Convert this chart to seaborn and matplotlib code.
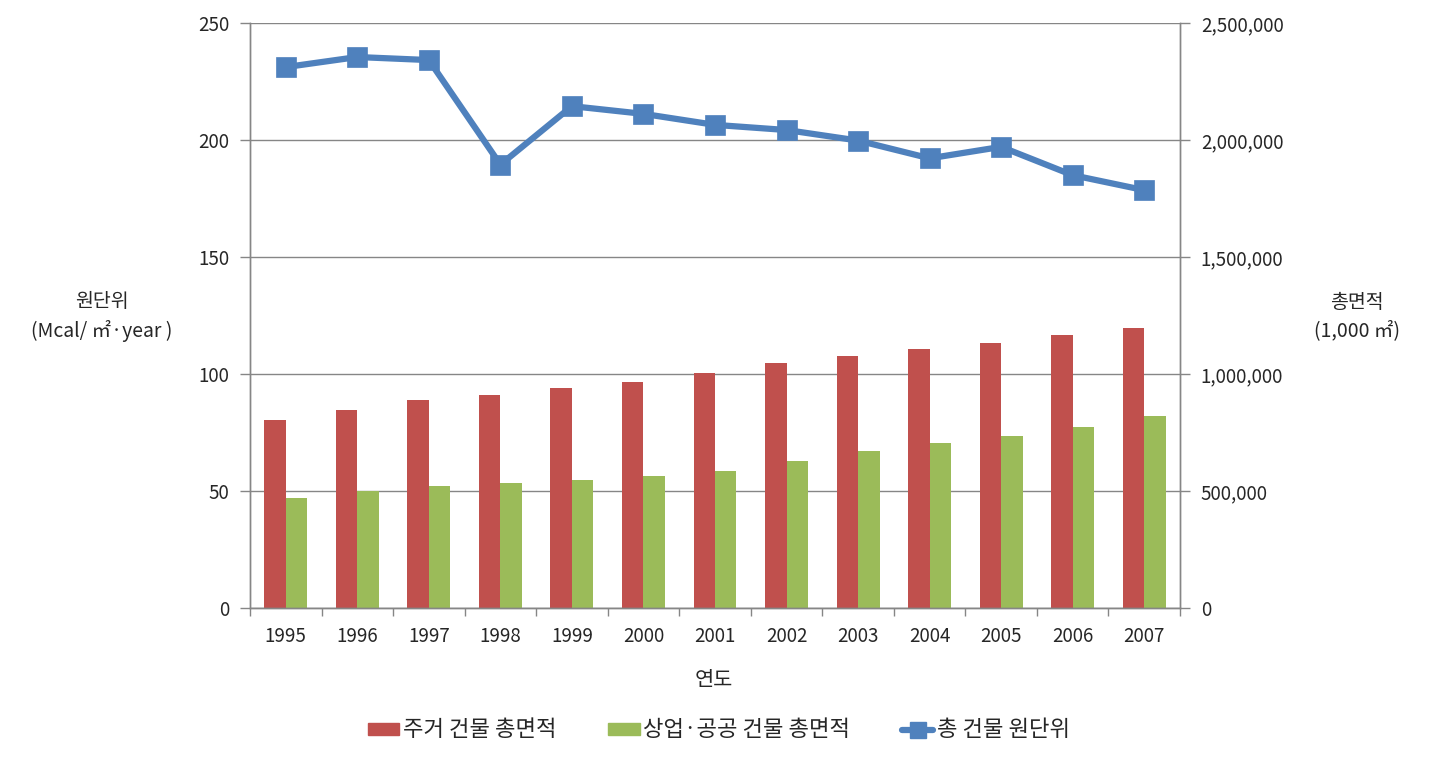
import numpy as np
import pandas as pd
import seaborn as sns
import matplotlib
matplotlib.use("Agg")
import matplotlib.pyplot as plt
from matplotlib.patches import Patch
from matplotlib.lines import Line2D
from matplotlib.ticker import FuncFormatter, MultipleLocator, FixedLocator

years = ["1995", "1996", "1997", "1998", "1999", "2000", "2001",
         "2002", "2003", "2004", "2005", "2006", "2007"]
residential_area = [803000, 846000, 889000, 910000, 940000, 966000, 1004000,
                    1047000, 1077000, 1107000, 1132000, 1167000, 1197000]
commercial_area = [470000, 499000, 521000, 534000, 547000, 564000, 585000,
                   628000, 671000, 705000, 735000, 774000, 820000]
intensity = [231.2, 235.5, 234.2, 189.5, 214.5, 211.2, 206.5,
             204.3, 199.8, 192.2, 197.1, 185.0, 178.6]

s_res = "주거 건물 총면적"
s_com = "상업·공공 건물 총면적"
s_int = "총 건물 원단위"

sns.set_theme(style="white")
plt.rcParams["font.family"] = ["Noto Sans CJK KR", "DejaVu Sans"]

RED = "#C0504D"
GREEN = "#9BBB59"
BLUE = "#4F81BD"
GREY = "#868686"

bars = pd.DataFrame({
    "year": years * 2,
    "value": residential_area + commercial_area,
    "series": [s_res] * len(years) + [s_com] * len(years),
})
line = pd.DataFrame({"year": years, "value": intensity})

fig = plt.figure(figsize=(14.32, 7.70), dpi=100)
ax = fig.add_axes([0.1746, 0.2104, 0.824 - 0.1746, 0.970 - 0.2104])
ax2 = ax.twinx()

sns.barplot(data=bars, x="year", y="value", hue="series", ax=ax2,
            palette=[RED, GREEN], width=0.6, saturation=1, legend=False,
            order=years, hue_order=[s_res, s_com], linewidth=0, edgecolor="none")
sns.pointplot(data=line, x="year", y="value", ax=ax, color=BLUE,
              markers="s", markersize=11, linewidth=4.5, order=years)

ax.set_zorder(ax2.get_zorder() + 1)
ax.patch.set_visible(False)

ax.set_ylim(0, 250)
ax2.set_ylim(0, 2500000)
ax.set_xlim(-0.5, len(years) - 0.5)
ax.yaxis.set_major_locator(MultipleLocator(50))
ax2.yaxis.set_major_locator(MultipleLocator(500000))
ax2.yaxis.set_major_formatter(FuncFormatter(lambda v, p: f"{int(v):,}"))

ax2.grid(True, axis="y", color=GREY, linewidth=1)
ax.grid(False)
ax2.set_axisbelow(True)

TICK_FS = 13.5
ax.set_xticks(range(len(years)))
ax.set_xticklabels(years)
ax.xaxis.set_minor_locator(FixedLocator(np.arange(-0.5, len(years), 1.0)))
ax.tick_params(axis="x", which="major", length=0, labelsize=TICK_FS, pad=13)
ax.tick_params(axis="x", which="minor", length=6, color=GREY, width=1, bottom=True)
ax.tick_params(axis="y", length=7, color=GREY, width=1, labelsize=TICK_FS, pad=8, left=True)
ax2.tick_params(axis="y", length=7, color=GREY, width=1, labelsize=TICK_FS, pad=8, right=True)

for a in (ax, ax2):
    a.spines["top"].set_visible(False)
    for side in ("left", "right", "bottom"):
        a.spines[side].set_color(GREY)
        a.spines[side].set_linewidth(1)

ax.set_xlabel("")
ax.set_ylabel("")
ax2.set_ylabel("")
ax2.set_xlabel("")

fig.text(0.0713, 0.589, "원단위\n(Mcal/ ㎡·year )", ha="center", va="center",
         fontsize=14, linespacing=1.45)
fig.text(0.9475, 0.589, "총면적\n(1,000 ㎡)", ha="center", va="center",
         fontsize=14, linespacing=1.45)
fig.text(0.4986, 0.117, "연도", ha="center", va="center", fontsize=15)

handles = [
    Patch(facecolor=RED, edgecolor=RED),
    Patch(facecolor=GREEN, edgecolor=GREEN),
    Line2D([0], [0], color=BLUE, linewidth=4.5, marker="s", markersize=11),
]
fig.legend(handles, [s_res, s_com, s_int], loc="center", ncol=3,
           bbox_to_anchor=(0.502, 0.052), frameon=False, fontsize=16,
           handlelength=1.4, handleheight=0.45, columnspacing=2.35, handletextpad=0.15)

fig.savefig("out.png", dpi=100, facecolor="white")
